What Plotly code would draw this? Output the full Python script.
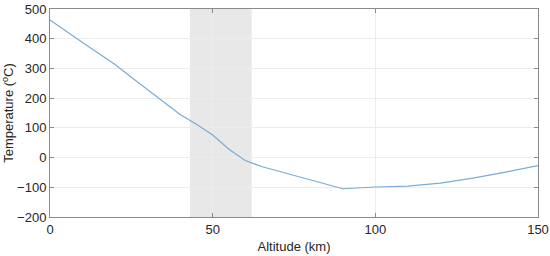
import plotly.graph_objects as go

altitude_km = [0, 5, 10, 15, 20, 25, 30, 35, 40, 45, 50, 55, 60, 65, 70, 80, 90,
               100, 110, 120, 130, 140, 150]
temperature_c = [463, 424, 387, 350, 313, 270, 228, 185, 145, 112, 76, 28, -10, -30, -45, -76, -105,
                 -99, -96, -86, -69, -49, -27]
shade_range = [43, 62]

AXIS_COLOR = "#8a8a8a"
GRID_COLOR = "#ececec"
TEXT_COLOR = "#262626"
FONT = "Liberation Sans, Arial, sans-serif"

fig = go.Figure()

fig.add_shape(
    type="rect",
    xref="x",
    yref="paper",
    x0=shade_range[0],
    x1=shade_range[1],
    y0=0,
    y1=1,
    fillcolor="#e8e8e8",
    line={"width": 0},
    layer="below",
)

fig.add_trace(
    go.Scatter(
        x=altitude_km,
        y=temperature_c,
        mode="lines",
        line={"color": "#79acd6", "width": 1.2},
        showlegend=False,
    )
)

axis_common = dict(
    showline=True,
    linecolor=AXIS_COLOR,
    linewidth=1,
    mirror="ticks",
    ticks="inside",
    ticklen=4,
    tickcolor=AXIS_COLOR,
    showgrid=True,
    gridcolor=GRID_COLOR,
    gridwidth=1,
    zeroline=False,
    automargin=False,
    tickfont={"size": 13, "color": TEXT_COLOR, "family": FONT},
)

fig.update_xaxes(
    range=[0, 150],
    tickvals=[0, 50, 100, 150],
    title={"text": "Altitude (km)", "font": {"size": 13, "color": TEXT_COLOR, "family": FONT}, "standoff": 6},
    **axis_common,
)
fig.update_yaxes(
    range=[-200, 500],
    tickvals=[-200, -100, 0, 100, 200, 300, 400, 500],
    title={"text": "Temperature (<sup>o</sup>C)", "font": {"size": 13, "color": TEXT_COLOR, "family": FONT}, "standoff": 1},
    **axis_common,
)

fig.update_layout(
    width=550,
    height=256,
    margin={"l": 50, "r": 12, "t": 9, "b": 39},
    plot_bgcolor="white",
    paper_bgcolor="white",
    font={"family": FONT},
)

# the page's default body margin would shift the figure by 8px
fig.write_html(
    "out.html",
    config={"displayModeBar": False},
    post_script="document.body.style.margin='0';",
)
